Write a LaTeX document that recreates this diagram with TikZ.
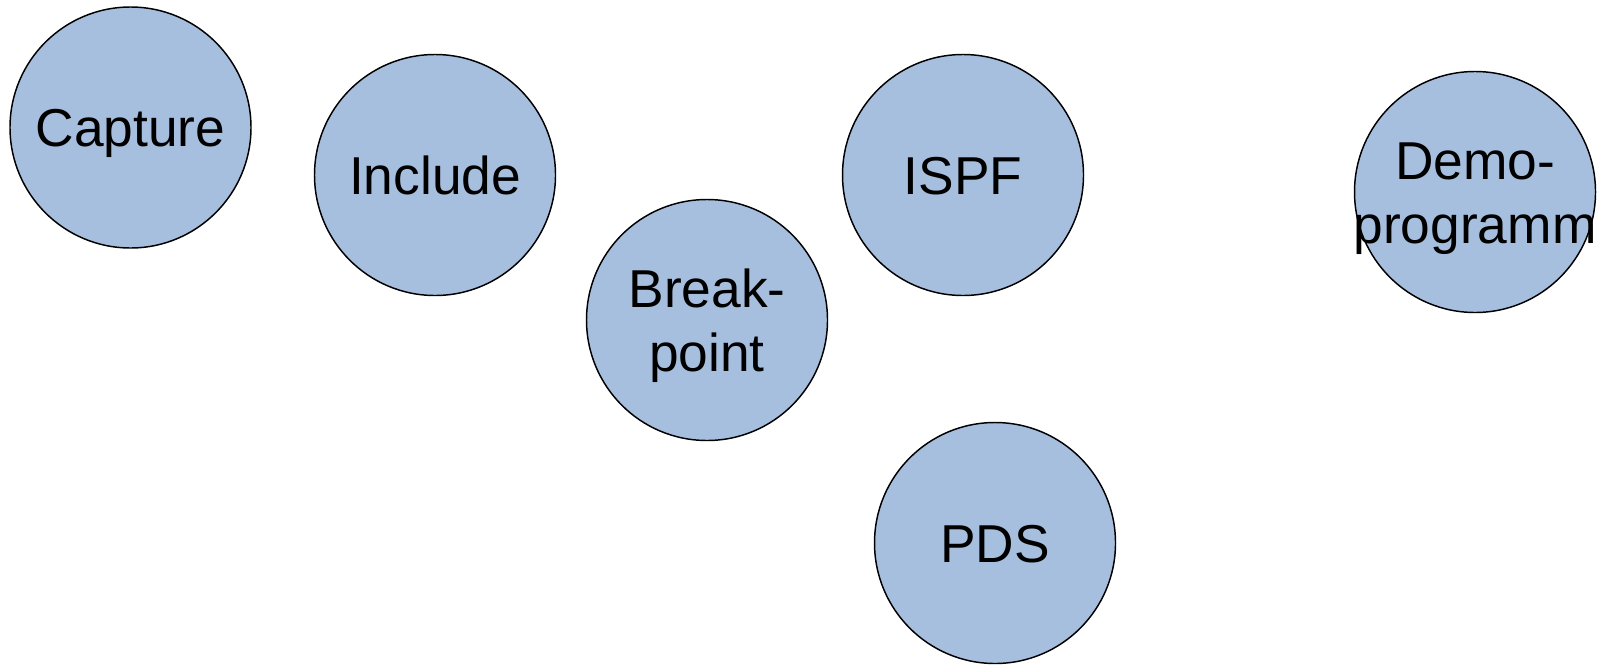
\documentclass[tikz,border=0pt]{standalone}
\usepackage{fontspec}
\setmainfont{Liberation Sans}
\usepackage{tikz}

\definecolor{bubbleblue}{RGB}{167,191,222}

\begin{document}
\begin{tikzpicture}[x=0.75pt,y=-0.75pt]

	\tikzset{BubbleStyle/.style = {shape          = circle,
			draw,
			line width     = 1.1pt,
			fill           = bubbleblue,
			minimum size   = 241*0.75pt,
			inner sep      = 0pt,
			align          = center,
			text height    = 28.6pt,
			text depth     = 0pt,
			font           = \fontsize{40}{48}\selectfont}}

	% two lines: box runs from cap top of the first line to the last baseline
	\tikzset{TwoLineStyle/.style = {text height = 76.6pt}}

	\tikzset{TextStyle/.style = {align = center,
			inner sep   = 0pt,
			text height = 76.6pt,
			text depth  = 0pt,
			font  = \fontsize{40}{48}\selectfont}}

	\useasboundingbox (0,0) rectangle (1601,664);

	\node[BubbleStyle](capture) at (130.5,127.5) {Capture};
	\node[BubbleStyle](include) at (435,175) {Include};
	\node[BubbleStyle,TwoLineStyle](break) at (707,320) {Break-\\point};
	\node[BubbleStyle](ispf) at (963,175) {ISPF};
	\node[BubbleStyle](pds) at (995,543) {PDS};
	% text is wider than the circle, so keep it out of the size
	\node[BubbleStyle,label={[TextStyle]center:Demo-\\programm}](demo) at (1475,192) {};

\end{tikzpicture}
\end{document}
